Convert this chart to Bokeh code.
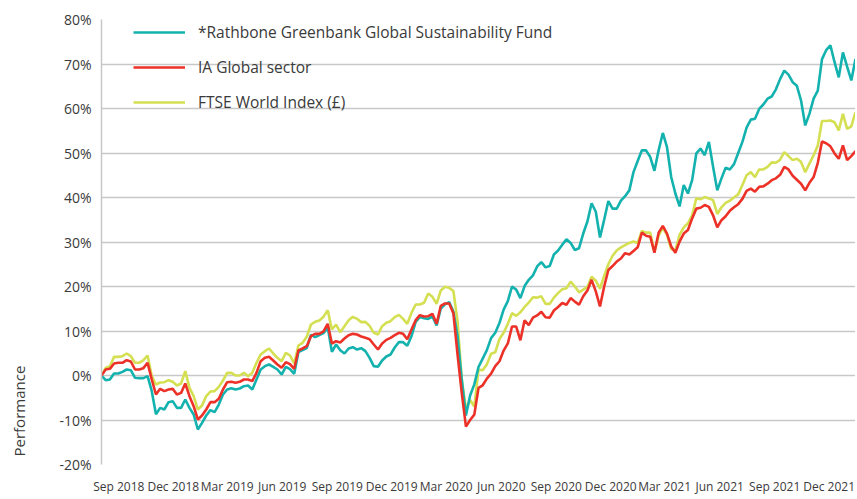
import pandas as pd
from bokeh.plotting import figure
from bokeh.models import (FixedTicker, PrintfTickFormatter, DatetimeTickFormatter,
                          Legend, LegendItem, Range1d, LinearAxis, Title)
from bokeh.embed import file_html
from bokeh.resources import INLINE

# weekly observation dates
dates = pd.date_range("2018-08-03", periods=181, freq="7D")

rathbone = [0, -1.05, -0.9, 0.45, 0.45, 0.82, 1.35, 1.2, -0.52, -0.6,
            -0.6, -0.15, -3.52, -8.69, -7.27, -7.64, -6.0, -5.77, -7.27, -7.27,
            -5.39, -7.27, -8.76, -12.13, -10.64, -8.99, -7.79, -8.24, -6.52, -4.27,
            -3.15, -2.85, -3.15, -2.92, -2.4, -2.25, -3.15, -0.9, 1.35, 2.1,
            2.47, 1.95, 1.35, 0.22, 1.95, 1.42, 0.37, 5.24, 5.69, 6.14,
            9.14, 8.61, 9.06, 9.51, 10.86, 5.32, 6.97, 5.69, 4.94, 6.07,
            6.37, 5.84, 6.14, 5.47, 3.97, 2.1, 1.95, 3.37, 4.27, 4.72,
            6.29, 7.49, 7.49, 6.67, 8.84, 12.06, 13.18, 12.88, 12.73, 13.26,
            11.24, 15.06, 16.0, 16.5, 14.4, 8.8, -0.9, -9.0, -4.5, -2.0,
            1.9, 3.8, 5.7, 8.4, 9.6, 11.8, 14.8, 16.7, 20.0, 19.3,
            17.4, 20.1, 21.5, 22.5, 24.5, 25.5, 24.3, 24.6, 27.2, 28.1,
            29.4, 30.6, 29.8, 28.2, 28.6, 31.9, 34.6, 38.7, 36.8, 31.0,
            35.0, 39.2, 37.5, 37.5, 39.3, 40.3, 41.6, 45.7, 48.2, 50.6,
            50.6, 49.1, 46.0, 50.6, 54.5, 51.3, 44.6, 40.9, 38.0, 42.8,
            40.9, 43.9, 49.9, 51.0, 49.5, 52.5, 46.9, 41.6, 44.3, 46.7,
            46.3, 47.5, 50.0, 52.5, 55.7, 57.5, 57.7, 59.9, 60.9, 62.2,
            62.7, 64.3, 66.6, 68.5, 67.6, 65.9, 65.1, 61.8, 56.2, 58.8,
            62.2, 64.0, 71.1, 73.1, 74.2, 70.4, 67.0, 72.6, 69.4, 66.3,
            71.1]

ia_global = [0, 1.35, 1.5, 2.7, 2.85, 2.85, 3.45, 3.15, 1.35, 1.35,
             1.65, 2.85, -0.9, -4.27, -3.0, -3.52, -3.15, -3.0, -4.27, -3.9,
             -1.8, -4.64, -6.89, -9.89, -8.99, -7.64, -5.99, -5.99, -5.24, -3.15,
             -1.5, -1.42, -1.65, -1.42, -0.9, -0.9, -1.27, 0.6, 3.22, 3.97,
             4.19, 3.37, 2.47, 1.72, 3.0, 2.55, 1.5, 5.62, 6.07, 6.59,
             8.84, 9.36, 9.36, 9.89, 11.61, 7.19, 7.72, 7.42, 8.31, 9.06,
             9.36, 9.21, 8.76, 8.46, 8.16, 6.97, 5.84, 7.19, 8.01, 8.46,
             9.06, 9.59, 9.36, 8.16, 10.34, 12.43, 13.56, 13.26, 13.33, 13.86,
             11.61, 15.66, 16.18, 16.18, 14.0, 4.7, -3.9, -11.5, -10.0, -8.8,
             -2.8, -2.2, -0.7, 0.4, 2.1, 3.2, 5.6, 7.2, 11.0, 11.0,
             7.9, 12.4, 11.3, 13.0, 13.5, 14.3, 13.1, 13.0, 14.6, 15.4,
             16.3, 15.9, 17.4, 16.6, 15.9, 17.8, 19.1, 21.5, 18.9, 15.5,
             20.0, 23.7, 24.6, 25.6, 26.3, 27.5, 27.2, 28.0, 28.8, 32.1,
             31.4, 31.2, 27.6, 32.1, 33.6, 31.9, 29.0, 27.6, 30.1, 31.9,
             32.7, 35.3, 37.5, 37.7, 38.3, 37.9, 36.0, 33.3, 34.9, 35.8,
             37.0, 37.8, 38.5, 39.7, 41.5, 42.0, 41.3, 42.4, 42.5, 43.1,
             43.9, 44.3, 45.1, 46.9, 46.3, 44.9, 44.0, 43.1, 41.6, 43.3,
             44.6, 47.8, 52.6, 52.2, 51.5, 49.9, 48.7, 51.7, 48.4, 49.3,
             50.4]

ftse_world = [0, 1.72, 2.02, 4.19, 4.19, 4.34, 4.94, 4.34, 2.85, 2.85,
              3.45, 4.49, -0.15, -2.02, -1.57, -1.5, -1.05, -1.42, -2.25, -1.8,
              0.97, -2.77, -4.64, -7.64, -6.74, -4.64, -3.6, -3.52, -2.55, -1.12,
              0.6, 0.6, 0.0, 0.0, 0.6, -0.15, 0.6, 2.85, 4.72, 5.47,
              6.07, 4.94, 3.97, 3.22, 5.09, 4.49, 2.7, 6.74, 7.34, 8.69,
              11.46, 12.06, 12.36, 13.18, 14.68, 10.34, 11.46, 9.74, 11.09, 12.43,
              13.18, 12.73, 11.99, 12.06, 11.16, 9.59, 9.21, 11.09, 11.84, 12.21,
              13.11, 13.63, 12.73, 11.61, 14.08, 15.96, 15.96, 16.33, 18.43, 17.68,
              16.1, 19.1, 19.93, 19.7, 19.0, 12.2, -0.9, -7.5, -5.5, -7.0,
              1.3, 1.2, 2.5, 4.9, 5.2, 8.2, 9.6, 11.6, 14.0, 13.4,
              14.2, 15.4, 16.4, 17.6, 17.5, 17.8, 16.1, 16.1, 17.5, 18.5,
              19.4, 19.6, 21.1, 20.0, 18.7, 19.3, 19.9, 22.2, 21.3, 19.5,
              22.4, 25.0, 26.9, 28.1, 28.8, 29.3, 29.8, 30.1, 29.8, 32.5,
              32.1, 32.1, 27.8, 31.4, 33.2, 31.6, 28.4, 28.1, 31.6, 33.3,
              34.2, 36.0, 39.8, 39.6, 40.1, 39.8, 39.4, 36.3, 37.8, 38.8,
              39.3, 40.0, 40.7, 42.8, 45.0, 45.7, 44.6, 46.3, 46.3, 46.9,
              47.9, 47.8, 48.5, 50.2, 49.3, 48.4, 48.7, 48.0, 45.7, 47.6,
              49.5, 51.7, 57.2, 57.2, 57.3, 56.9, 55.1, 58.8, 55.4, 56.0,
              59.2]

series_names = ["*Rathbone Greenbank Global Sustainability Fund",
                "IA Global sector",
                "FTSE World Index (£)"]

tick_dates = ["2018-09-01", "2018-12-01", "2019-03-01", "2019-06-01",
              "2019-09-01", "2019-12-01", "2020-03-01", "2020-06-01",
              "2020-09-01", "2020-12-01", "2021-03-01", "2021-06-01",
              "2021-09-01", "2021-12-01"]
y_ticks = [-20, -10, 0, 10, 20, 30, 40, 50, 60, 70, 80]
y_title = "Performance"

FONT = "Open Sans"
TXT = "#3a3a3a"

p = figure(width=855, height=497, x_axis_type="datetime",
           output_backend="svg", toolbar_location=None,
           x_range=Range1d(dates[0], dates[-1]), y_range=Range1d(-20, 80),
           min_border_left=101, min_border_right=0, min_border_top=19,
           min_border_bottom=0)
p.outline_line_color = None
p.background_fill_color = "white"
p.border_fill_color = "white"

p.xgrid.visible = False
p.ygrid.grid_line_color = "#c8c8c8"
p.ygrid.grid_line_width = 1.5

p.yaxis.ticker = FixedTicker(ticks=y_ticks)
p.yaxis.formatter = PrintfTickFormatter(format="%d%%")
p.yaxis.major_tick_out = 0
p.yaxis.major_tick_in = 0
p.yaxis.minor_tick_out = 0
p.yaxis.minor_tick_in = 0
p.yaxis.axis_line_color = "#c8c8c8"
p.yaxis.axis_line_width = 1.5
p.yaxis.major_label_standoff = 10
p.yaxis.major_label_text_font = FONT
p.yaxis.major_label_text_font_size = "14px"
p.yaxis.major_label_text_color = TXT

# blank spacer axis (invisible tick, empty label) that pushes the side title outward
spacer = LinearAxis(ticker=FixedTicker(ticks=[-20]), axis_line_color=None,
                    major_tick_out=26, major_tick_in=0, major_tick_line_color=None,
                    minor_tick_out=0, minor_tick_in=0, minor_tick_line_color=None,
                    major_label_standoff=0, major_label_overrides={-20: ""})
p.add_layout(spacer, "left")

perf = Title(text=y_title, align="left", offset=8, standoff=4,
             text_font=FONT, text_font_size="15px", text_font_style="normal",
             text_color=TXT)
p.add_layout(perf, "left")

p.xaxis.ticker = FixedTicker(ticks=[pd.Timestamp(d).value // 10**6 for d in tick_dates])
fmt = "%b %Y"
p.xaxis.formatter = DatetimeTickFormatter(days=fmt, months=fmt, years=fmt,
                                          hours=fmt, minutes=fmt, seconds=fmt)
p.xaxis.major_tick_out = 0
p.xaxis.major_tick_in = 0
p.xaxis.minor_tick_out = 0
p.xaxis.minor_tick_in = 0
p.xaxis.axis_line_color = None
p.xaxis.major_label_standoff = 13
p.xaxis.major_label_text_font = FONT
p.xaxis.major_label_text_font_size = "12px"
p.xaxis.major_label_text_color = TXT

colors = {"teal": "#14b2ae", "red": "#ec3128", "yellow": "#d5df52"}
r_ftse = p.line(dates, ftse_world, line_color=colors["yellow"], line_width=2.6)
r_rath = p.line(dates, rathbone, line_color=colors["teal"], line_width=2.6)
r_ia = p.line(dates, ia_global, line_color=colors["red"], line_width=2.6)

legend = Legend(items=[LegendItem(label=series_names[0], renderers=[r_rath]),
                       LegendItem(label=series_names[1], renderers=[r_ia]),
                       LegendItem(label=series_names[2], renderers=[r_ftse])],
                location=(32, 351), padding=0, margin=0, spacing=13,
                glyph_width=52, glyph_height=20, label_height=20,
                label_standoff=13, border_line_alpha=0, background_fill_alpha=0,
                label_text_font=FONT, label_text_font_size="15.5px",
                label_text_color=TXT)
p.add_layout(legend, "center")

open("out.html", "w").write(file_html(p, INLINE))
